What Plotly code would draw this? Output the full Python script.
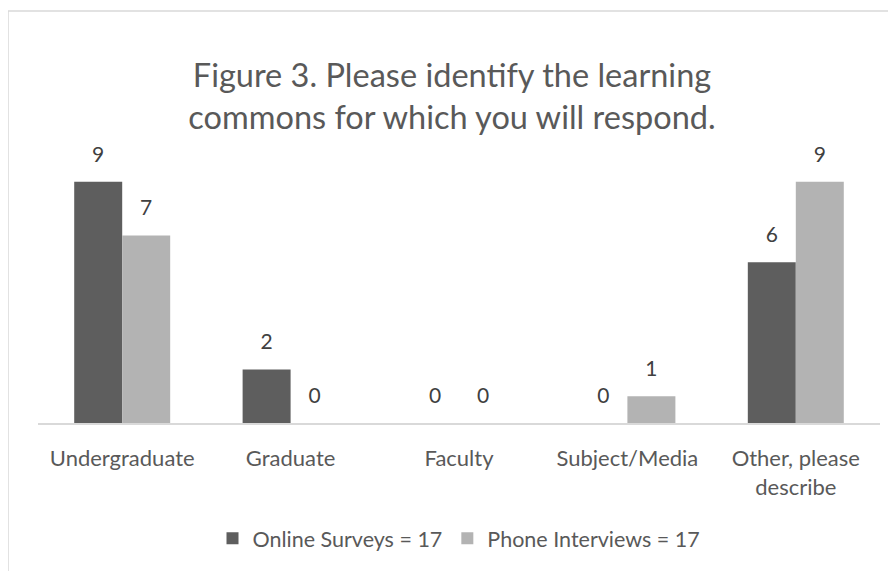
import plotly.graph_objects as go

categories = ["Undergraduate", "Graduate", "Faculty", "Subject/Media", "Other, please<br>describe"]
online_surveys = [9, 2, 0, 0, 6]
phone_interviews = [7, 0, 0, 1, 9]
series_names = ["Online Surveys = 17", "Phone Interviews = 17"]
title_text = "Figure 3. Please identify the learning<br>commons for which you will respond."

FONT = "Lato"
W, H = 888, 563
PW, PH = 842, 270
L, T = 30, 147
R, B = W - L - PW, H - T - PH
GAP = 0.43
colors = ["#5e5e5e", "#b3b3b3"]

fig = go.Figure()
for name, vals, col in zip(series_names, [online_surveys, phone_interviews], colors):
    fig.add_trace(go.Bar(
        x=categories, y=vals, name=name,
        marker=dict(color=col, line=dict(width=0)),
    ))
for name, vals in zip(series_names, [online_surveys, phone_interviews]):
    fig.add_trace(go.Scatter(
        x=categories, y=vals, mode="markers+text", text=vals,
        textposition="top center", showlegend=False, hoverinfo="skip",
        marker=dict(size=22, opacity=0),
        textfont=dict(size=21, color="#404040", family=FONT),
        cliponaxis=False,
    ))

fig.update_layout(
    width=W, height=H,
    margin=dict(l=L, r=R, t=T, b=B),
    paper_bgcolor="white", plot_bgcolor="white",
    barmode="group", bargap=GAP, bargroupgap=0,
    scattermode="group", scattergap=GAP,
    title=dict(text=title_text, x=0.5, xref="container", xanchor="center",
               y=1 - 79 / H, yanchor="middle",
               font=dict(family=FONT, size=32.5, color="#595959")),
    font=dict(family=FONT, color="#595959"),
    showlegend=True,
    legend=dict(orientation="h", x=0.5, xanchor="center", y=-0.43, yanchor="middle",
                font=dict(size=21.5, color="#595959", family=FONT),
                itemwidth=30, traceorder="normal"),
    xaxis=dict(showline=True, linecolor="#d9d9d9", linewidth=2, ticks="",
               ticklabelstandoff=15,
               tickfont=dict(size=22, color="#595959", family=FONT),
               showgrid=False, zeroline=False),
    yaxis=dict(range=[0, 10], visible=False, showgrid=False, zeroline=False),
    shapes=[dict(type="rect", xref="paper", yref="paper",
                 x0=-L / PW, x1=1.2, y0=-0.8, y1=(PH + T - 2) / PH,
                 line=dict(color="#d9d9d9", width=1.5), fillcolor="rgba(0,0,0,0)",
                 layer="below")],
)

fig.write_html("out.html")
